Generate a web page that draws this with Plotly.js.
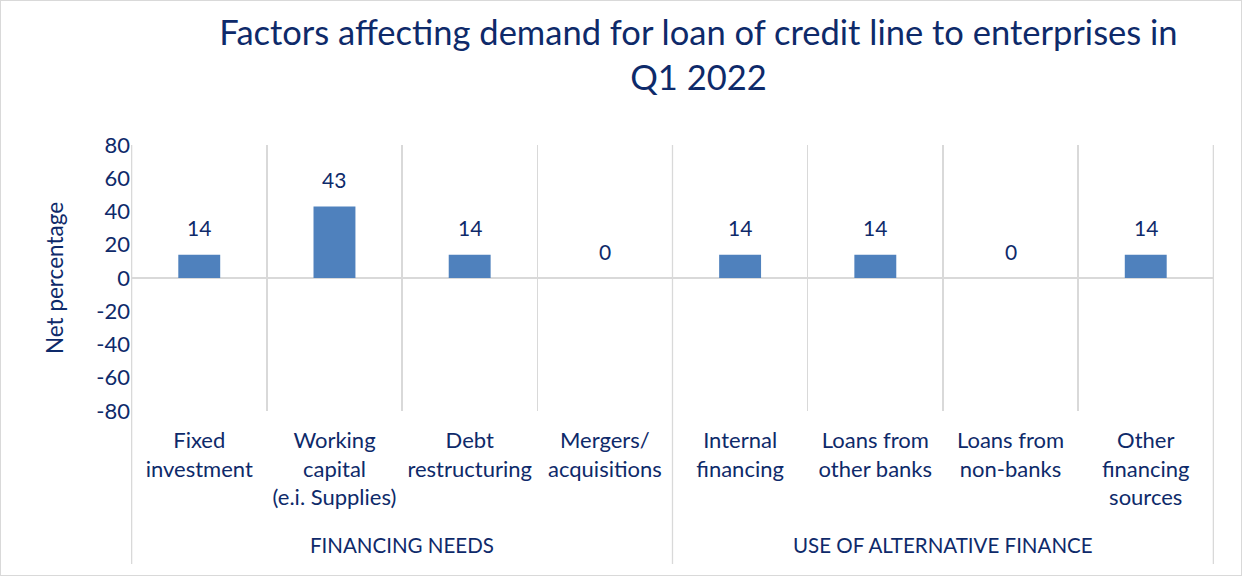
<!DOCTYPE html>
<html>
<head>
<meta charset="utf-8">
<script src="https://cdn.plot.ly/plotly-3.0.1.min.js"></script>
<style>
html,body{margin:0;padding:0;background:#fff;}
#chart{width:1240px;height:574px;border:1px solid #d9d9d9;}
</style>
</head>
<body>
<div id="chart"></div>
<script>
const categories = [
  "Fixed<br>investment",
  "Working<br>capital<br>(e.i. Supplies)",
  "Debt<br>restructuring",
  "Mergers/<br>acquisitions",
  "Internal<br>financing",
  "Loans from<br>other banks",
  "Loans from<br>non-banks",
  "Other<br>financing<br>sources"
];
const values = [14, 43, 14, 0, 14, 14, 0, 14];
const groups = ["FINANCING NEEDS", "USE OF ALTERNATIVE FINANCE"];
const groupSizes = [4, 4];
const yTicks = [-80, -60, -40, -20, 0, 20, 40, 60, 80];

const navy = "#0E2A6A";
const gridCol = "#d9d9d9";
const fontFam = "Lato, 'Open Sans', sans-serif";

const shapes = [];
const annotations = [];
let start = 0;
shapes.push({type:"line", xref:"x", yref:"paper", x0:-0.5, x1:-0.5, y0:1, y1:-0.575, line:{color:gridCol, width:1.3}});
groups.forEach((g, i) => {
  const end = start + groupSizes[i];
  shapes.push({type:"line", xref:"x", yref:"paper", x0:end - 0.5, x1:end - 0.5, y0:1, y1:-0.575, line:{color:gridCol, width:1.3}});
  annotations.push({
    xref:"x", yref:"paper", x:(start + end - 1) / 2, y:-0.505, text:g, showarrow:false,
    font:{family:fontFam, size:20.5, color:navy}, yanchor:"middle"
  });
  start = end;
});
// data labels
categories.forEach((c, i) => {
  annotations.push({
    xref:"x", yref:"y", x:c, y:values[i], text:String(values[i]), showarrow:false,
    yanchor:"middle", yshift:27,
    font:{family:fontFam, size:21, color:navy}
  });
});

const trace = {
  type:"bar",
  x: categories,
  y: values,
  marker:{color:"#4F81BD"},
  width:0.31,
  hoverinfo:"x+y"
};

const layout = {
  width:1240, height:574,
  margin:{l:130, r:27, t:144, b:164},
  paper_bgcolor:"#fff", plot_bgcolor:"#fff",
  showlegend:false,
  title:{
    text:"Factors affecting demand for loan of credit line to enterprises in<br>Q1 2022",
    font:{family:fontFam, size:34.5, color:navy},
    x:0.524, xanchor:"center", xref:"paper", y:0.923, yanchor:"middle"
  },
  font:{family:fontFam, color:navy},
  xaxis:{
    type:"category",
    tickson:"boundaries",
    showgrid:true, gridcolor:gridCol, gridwidth:1.3,
    ticks:"", showline:false, zeroline:false,
    tickfont:{family:fontFam, size:22, color:navy},
    ticklabelstandoff:14,
    tickangle:0,
    fixedrange:true
  },
  yaxis:{
    range:[-80, 80],
    tickvals:yTicks,
    ticktext:yTicks.map(String),
    showgrid:false,
    zeroline:true, zerolinecolor:gridCol, zerolinewidth:1.5,
    showline:false, ticks:"",
    tickfont:{family:fontFam, size:22, color:navy},
    title:{text:"Net percentage", font:{family:fontFam, size:22.5, color:navy}, standoff:26},
    fixedrange:true
  },
  shapes: shapes,
  annotations: annotations,
  bargap:0.69
};

Plotly.newPlot("chart", [trace], layout, {displayModeBar:false, staticPlot:true});
</script>
</body>
</html>
